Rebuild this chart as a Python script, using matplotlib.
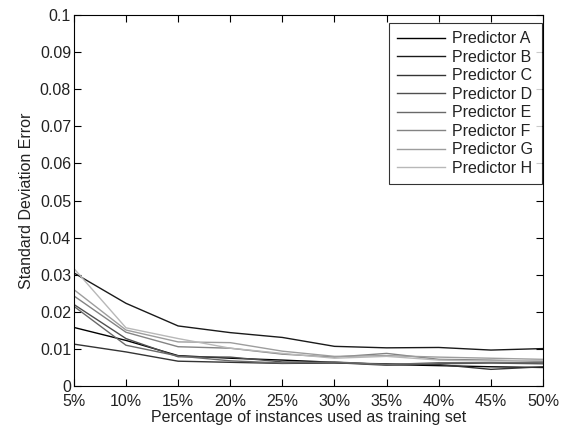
import numpy as np
import matplotlib.pyplot as plt

plt.rcParams['font.family'] = ['Liberation Sans', 'DejaVu Sans']

pct = [5, 10, 15, 20, 25, 30, 35, 40, 45, 50]
pct_labels = ['5%', '10%', '15%', '20%', '25%', '30%', '35%', '40%', '45%', '50%']

names = ['Predictor A', 'Predictor B', 'Predictor C', 'Predictor D',
         'Predictor E', 'Predictor F', 'Predictor G', 'Predictor H']

pred_a = [0.0158, 0.0123, 0.0082, 0.0075, 0.0070, 0.0064, 0.0058, 0.0055, 0.0052, 0.0050]
pred_b = [0.0305, 0.0223, 0.0162, 0.0144, 0.0131, 0.0107, 0.0103, 0.0104, 0.0097, 0.0101]
pred_c = [0.0113, 0.0092, 0.0067, 0.0064, 0.0061, 0.0062, 0.0060, 0.0058, 0.0045, 0.0052]
pred_d = [0.0220, 0.0128, 0.0079, 0.0078, 0.0065, 0.0063, 0.0056, 0.0060, 0.0062, 0.0060]
pred_e = [0.0215, 0.0110, 0.0081, 0.0068, 0.0062, 0.0065, 0.0058, 0.0063, 0.0063, 0.0063]
pred_f = [0.0243, 0.0145, 0.0106, 0.0102, 0.0086, 0.0078, 0.0088, 0.0072, 0.0070, 0.0066]
pred_g = [0.0260, 0.0151, 0.0119, 0.0117, 0.0094, 0.0080, 0.0082, 0.0078, 0.0075, 0.0072]
pred_h = [0.0317, 0.0157, 0.0128, 0.0102, 0.0088, 0.0075, 0.0080, 0.0070, 0.0067, 0.0069]

series = [pred_a, pred_b, pred_c, pred_d, pred_e, pred_f, pred_g, pred_h]
greys = np.linspace(0.0, 0.72, len(series))

fs = 11.5
fig = plt.figure(figsize=(5.68, 4.28), dpi=100)
ax = fig.add_axes([0.130, 0.098, 0.826, 0.867])

for vals, name, g in zip(series, names, greys):
    ax.plot(pct, vals, color=(g, g, g), lw=1.0, label=name)

ax.set_xlim(5, 50)
ax.set_ylim(0, 0.1)
ax.set_xticks(pct)
ax.set_xticklabels(pct_labels)
yt = np.arange(0, 0.1001, 0.01)
ax.set_yticks(yt)
ax.set_yticklabels(['0'] + ['%g' % v for v in yt[1:]])
ax.tick_params(direction='in', top=True, right=True, labelsize=fs, length=5,
               labelcolor='#222222')
ax.tick_params(axis='x', pad=6)
ax.tick_params(axis='y', pad=2)
for s in ax.spines.values():
    s.set_linewidth(0.8)

ax.set_xlabel('Percentage of instances used as training set', fontsize=fs,
              labelpad=0.5, color='#222222')
ax.set_ylabel('Standard Deviation Error', fontsize=fs, labelpad=4, color='#222222')

leg = ax.legend(loc='upper right', bbox_to_anchor=(0.997, 0.978), borderaxespad=0,
                fontsize=fs, frameon=True, fancybox=False, edgecolor='black',
                handlelength=3.0, labelspacing=0.22, handletextpad=0.5,
                borderpad=0.5)
leg.get_frame().set_linewidth(0.8)
for t in leg.get_texts():
    t.set_color('#222222')

fig.savefig('out.png', dpi=100)
